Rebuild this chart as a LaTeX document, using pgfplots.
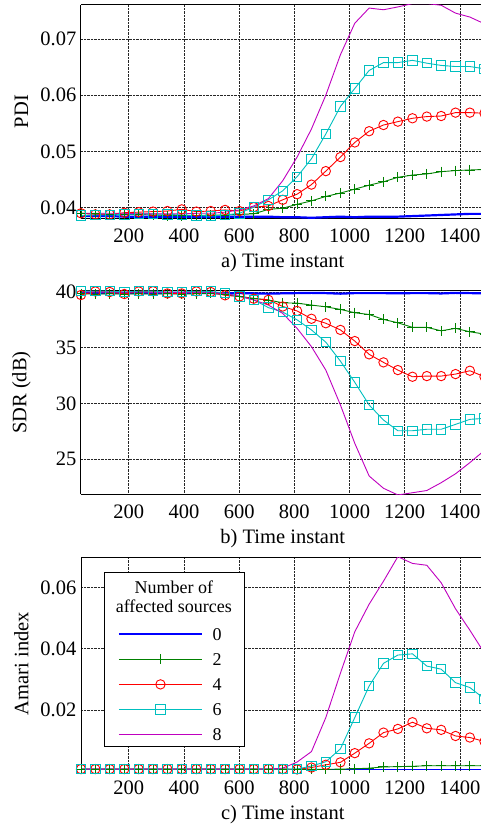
\documentclass[border=0pt]{standalone}
\usepackage{pgfplots}
\pgfplotsset{compat=1.18}
\usepackage{pgfplotstable}
\usepackage{fontspec}
\setmainfont{Liberation Serif}
\definecolor{mblue}{rgb}{0,0,1}
\definecolor{mgreen}{rgb}{0,0.5,0}
\definecolor{mred}{rgb}{1,0,0}
\definecolor{mcyan}{rgb}{0,0.75,0.75}
\definecolor{mmag}{rgb}{0.75,0,0.75}
\newcommand{\axfont}{\fontsize{20.5}{24}\selectfont}
\newcommand{\lgfont}{\fontsize{18}{19.3}\selectfont}

\pgfplotstableread{
x b g r c m
27 0.0385 0.0390 0.0390 0.0386 0.0390
79 0.0385 0.0389 0.0388 0.0387 0.0390
131 0.0385 0.0388 0.0388 0.0387 0.0390
184 0.0384 0.0388 0.0391 0.0388 0.0390
236 0.0384 0.0388 0.0392 0.0389 0.0389
288 0.0384 0.0387 0.0393 0.0389 0.0389
340 0.0384 0.0386 0.0394 0.0388 0.0389
392 0.0384 0.0386 0.0397 0.0387 0.0389
445 0.0384 0.0386 0.0393 0.0386 0.0390
497 0.0384 0.0387 0.0394 0.0385 0.0390
549 0.0384 0.0387 0.0396 0.0387 0.0392
601 0.0384 0.0388 0.0394 0.0390 0.0396
653 0.0384 0.0389 0.0401 0.0401 0.0403
706 0.0384 0.0397 0.0403 0.0414 0.0416
758 0.0383 0.0399 0.0414 0.0430 0.0448
810 0.0383 0.0406 0.0424 0.0455 0.0490
862 0.0382 0.0412 0.0441 0.0487 0.0540
914 0.0383 0.0420 0.0465 0.0531 0.0600
967 0.0384 0.0426 0.0490 0.0580 0.0672
1019 0.0383 0.0433 0.0516 0.0612 0.0728
1071 0.0384 0.0440 0.0536 0.0644 0.0755
1123 0.0384 0.0446 0.0547 0.0658 0.0752
1175 0.0384 0.0454 0.0553 0.0658 0.0757
1228 0.0385 0.0458 0.0559 0.0662 0.0763
1280 0.0386 0.0460 0.0562 0.0657 0.0763
1332 0.0387 0.0464 0.0563 0.0653 0.0760
1384 0.0388 0.0466 0.0569 0.0651 0.0746
1436 0.0389 0.0467 0.0569 0.0651 0.0739
1489 0.0389 0.0468 0.0568 0.0647 0.0727
}\pdi

\pgfplotstableread{
x b g r c m
27 39.92 39.85 39.73 40.07 40.00
79 39.93 39.80 40.05 40.08 40.00
131 39.90 39.85 40.00 40.07 39.98
184 39.92 39.80 39.82 40.00 39.98
236 39.90 39.85 40.05 40.07 39.98
288 39.92 39.80 40.07 40.08 39.97
340 39.90 39.85 39.87 40.00 39.97
392 39.92 39.80 39.87 40.00 39.97
445 39.92 39.85 40.05 40.07 39.97
497 39.90 39.90 40.00 40.05 39.95
549 39.88 39.75 39.70 39.90 39.85
601 39.90 39.60 39.60 39.60 39.63
653 39.88 39.43 39.40 39.30 39.28
706 39.85 39.28 39.30 38.60 38.83
758 39.88 39.03 38.70 38.20 38.08
810 39.90 39.00 38.30 37.50 36.74
862 39.92 38.83 37.60 36.60 35.10
914 39.90 38.67 37.20 35.50 33.00
967 39.85 38.44 36.60 33.80 29.87
1019 39.90 38.14 35.60 31.90 26.43
1071 39.90 37.98 34.41 29.87 23.50
1123 39.90 37.54 33.69 28.52 22.40
1175 39.88 37.24 33.00 27.56 21.80
1228 39.90 36.83 32.40 27.56 22.00
1280 39.90 36.83 32.46 27.69 22.20
1332 39.87 36.52 32.46 27.69 22.90
1384 39.92 36.74 32.64 28.13 23.70
1436 39.90 36.43 32.94 28.58 24.70
1489 39.88 36.23 32.40 28.67 25.80
}\sdr

\pgfplotstableread{
x b g r c m
27 0.0005 0.0007 0.0007 0.0007 0.0007
79 0.0005 0.0007 0.0007 0.0007 0.0007
131 0.0005 0.0007 0.0007 0.0007 0.0007
184 0.0005 0.0007 0.0007 0.0007 0.0007
236 0.0005 0.0007 0.0007 0.0007 0.0007
288 0.0005 0.0007 0.0007 0.0007 0.0007
340 0.0005 0.0007 0.0007 0.0007 0.0007
392 0.0005 0.0007 0.0007 0.0007 0.0007
445 0.0005 0.0007 0.0007 0.0007 0.0007
497 0.0005 0.0007 0.0007 0.0007 0.0007
549 0.0005 0.0007 0.0007 0.0007 0.0007
601 0.0005 0.0007 0.0007 0.0007 0.0007
653 0.0005 0.0007 0.0007 0.0007 0.0007
706 0.0005 0.0007 0.0007 0.0007 0.0007
758 0.0005 0.0007 0.0007 0.0007 0.0010
810 0.0005 0.0006 0.0006 0.0007 0.0030
862 0.0005 0.0006 0.0012 0.0017 0.0064
914 0.0005 0.0006 0.0021 0.0031 0.0175
967 0.0005 0.0007 0.0029 0.0073 0.0320
1019 0.0005 0.0008 0.0059 0.0175 0.0455
1071 0.0005 0.0010 0.0091 0.0278 0.0545
1123 0.0005 0.0014 0.0126 0.0352 0.0620
1175 0.0005 0.0015 0.0138 0.0379 0.0700
1228 0.0005 0.0016 0.0160 0.0383 0.0678
1280 0.0005 0.0018 0.0140 0.0343 0.0672
1332 0.0005 0.0018 0.0135 0.0333 0.0615
1384 0.0005 0.0018 0.0115 0.0289 0.0530
1436 0.0005 0.0018 0.0110 0.0273 0.0460
1489 0.0005 0.0018 0.0097 0.0236 0.0385
}\amari

\pgfplotsset{
  base/.style={
    scale only axis, width=403.5pt, xmin=27, xmax=1489,
    xtick={200,400,...,1400},
    axis y line*=left,
    axis line style={-, line width=1pt, black},
    grid=major, grid style={densely dotted, black!85, line width=0.7pt},
    major tick length=0pt,
    tick label style={font=\axfont},
    label style={font=\axfont},
    /pgf/number format/assume math mode=true,
    /pgf/number format/1000 sep={},
    scaled y ticks=false,
    xticklabel style={anchor=base, yshift=-24pt},
    yticklabel style={anchor=east, inner xsep=0pt, xshift=-4.5pt},
    xlabel style={at={(axis description cs:0.5,0)}, anchor=base, yshift=-49.5pt},
    ylabel style={at={(axis description cs:-0.1475,0.5)}, anchor=center},
    clip marker paths=false,
  },
  twodec/.style={yticklabel style={/pgf/number format/.cd, fixed, fixed zerofill, precision=2}},
  s0/.style={color=mblue, line width=2.2pt, no markers},
  s2/.style={color=mgreen, line width=0.9pt, mark=+, mark size=5pt, mark options={solid, line width=0.9pt}},
  s4/.style={color=mred, line width=0.9pt, mark=o, mark size=4.7pt, mark options={solid, line width=0.9pt}},
  s6/.style={color=mcyan, line width=0.9pt, mark=square, mark size=4.7pt, mark options={solid, line width=0.9pt}},
  s8/.style={color=mmag, line width=0.9pt, no markers},
}

\begin{document}
\begin{tikzpicture}[x=1pt,y=1pt]
\useasboundingbox (0,0) rectangle (481,825);
\clip (0,0) rectangle (481,825);

\begin{axis}[base, twodec, at={(81pt,606.7pt)}, anchor=south west, height=213.6pt,
  ymin=0.03811, ymax=0.0761, ytick={0.04,0.05,0.06,0.07},
  xlabel={a) Time instant}, ylabel={PDI}]
\addplot[s0] table[x=x,y=b]{\pdi};
\addplot[s2] table[x=x,y=g]{\pdi};
\addplot[s4] table[x=x,y=r]{\pdi};
\addplot[s6] table[x=x,y=c]{\pdi};
\addplot[s8] table[x=x,y=m]{\pdi};
\end{axis}

\begin{axis}[base, at={(81pt,330.7pt)}, anchor=south west, height=203.3pt,
  ymin=21.86, ymax=40.09, ytick={25,30,35,40},
  xlabel={b) Time instant}, ylabel={SDR (dB)}]
\addplot[s0] table[x=x,y=b]{\sdr};
\addplot[s2] table[x=x,y=g]{\sdr};
\addplot[s4] table[x=x,y=r]{\sdr};
\addplot[s6] table[x=x,y=c]{\sdr};
\addplot[s8] table[x=x,y=m]{\sdr};
\end{axis}

\begin{axis}[base, twodec, at={(81pt,55pt)}, anchor=south west, height=212.7pt,
  ymin=0.0004, ymax=0.0698, ytick={0.02,0.04,0.06},
  xlabel={c) Time instant}, ylabel={Amari index},
  legend cell align=left,
  legend style={at={(axis description cs:0.0577,0.9295)}, anchor=north west,
    draw=black, line width=0.8pt, fill=white, inner xsep=13pt, inner ysep=0pt,
    row sep=0pt, column sep=9.3pt, font=\lgfont,
    nodes={inner sep=0pt, text depth=}},
  legend image code/.code={\draw[mark repeat=2,mark phase=2] plot coordinates {(0pt,0pt) (41.7pt,0pt) (83.4pt,0pt)};}]
\addlegendimage{empty legend}
\addlegendentry{\makebox[19.3pt][r]{\begin{tabular}[b]{@{}c@{}}\rule{0pt}{20.4pt}Number of\\affected sources\rule[-9.5pt]{0pt}{9.5pt}\end{tabular}}}
\addplot[s0] table[x=x,y=b]{\amari};
\addlegendentry{\makebox[19.3pt][l]{\rule[-6.4pt]{0pt}{25pt}0}}
\addplot[s2] table[x=x,y=g]{\amari};
\addlegendentry{\makebox[19.3pt][l]{\rule[-6.4pt]{0pt}{25pt}2}}
\addplot[s4] table[x=x,y=r]{\amari};
\addlegendentry{\makebox[19.3pt][l]{\rule[-6.4pt]{0pt}{25pt}4}}
\addplot[s6] table[x=x,y=c]{\amari};
\addlegendentry{\makebox[19.3pt][l]{\rule[-6.4pt]{0pt}{25pt}6}}
\addplot[s8] table[x=x,y=m]{\amari};
\addlegendentry{\makebox[19.3pt][l]{\rule[-6.4pt]{0pt}{25pt}8}}
\end{axis}
\end{tikzpicture}
\end{document}
